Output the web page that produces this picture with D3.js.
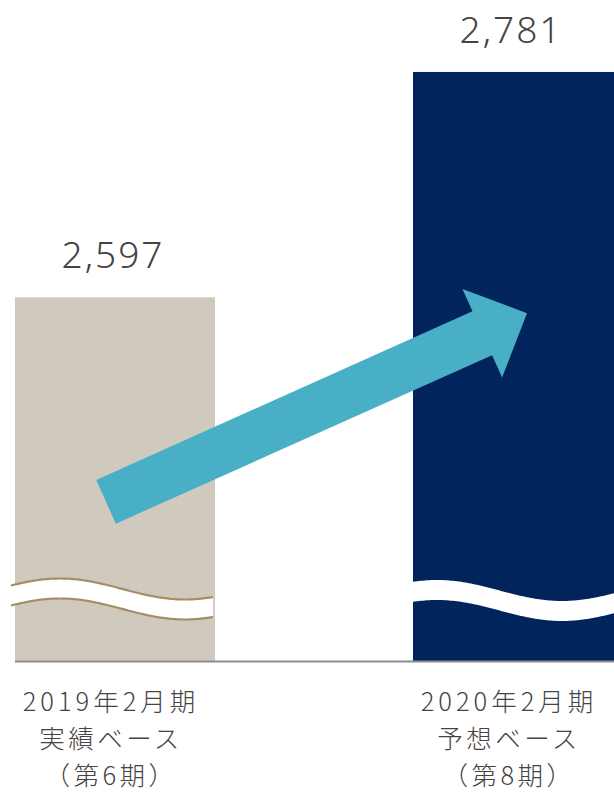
<!DOCTYPE html>
<html>
<head>
<meta charset="utf-8">
<script src="https://cdn.jsdelivr.net/npm/d3@7"></script>
<style>
  html, body { margin: 0; padding: 0; background: #ffffff; }
  svg { display: block; }
</style>
</head>
<body>
<svg id="chart" width="614" height="793"></svg>
<script>
// ---- data ----
const categories   = ["2019年2月期", "2020年2月期"];
const basisLabels  = ["実績ベース", "予想ベース"];
const periodLabels = ["（第6期）", "（第8期）"];
const values       = [2597, 2781];
const valueLabels  = ["2,597", "2,781"];
const barColors    = ["#D0CABE", "#00245B"];
const axisMin = 2300, axisMax = 2800;   // truncated (broken) value axis
const arrowFrom = 2430, arrowTo = 2584; // arrow end heights in value units

// ---- layout ----
const W = 614, H = 793;
const svg = d3.select("#chart");
const baseY = 661;

const x = d3.scaleBand().domain(categories).range([15, 613]).paddingInner(0.4975).paddingOuter(0);
const y = d3.scaleLinear().domain([axisMin, axisMax]).range([baseY, 48.7]);
const bw = x.bandwidth();

// bars
svg.selectAll("rect.bar").data(categories).join("rect")
  .attr("class", "bar")
  .attr("x", d => x(d))
  .attr("y", (d, i) => y(values[i]))
  .attr("width", (d, i) => i === categories.length - 1 ? bw + 2 : bw)
  .attr("height", (d, i) => baseY - y(values[i]))
  .attr("fill", (d, i) => barColors[i]);

// baseline
svg.append("line")
  .attr("x1", x(categories[0])).attr("x2", W)
  .attr("y1", baseY + 0.5).attr("y2", baseY + 0.5)
  .attr("stroke", "#8E8E8E").attr("stroke-width", 2);

// break marks (wavy white band)
const breakCfg = [
  { uStart: -4,  uEnd: 199, uMin: 45, mid: -72,   stroke: true },
  { uStart: -10, uEnd: 203, uMin: 24, mid: -70.5, stroke: false }
];
const waveA = 10.5, waveP = 250, bandT = 20;
categories.forEach((c, i) => {
  const cfg = breakCfg[i];
  const x0 = x(c);
  const us = d3.range(cfg.uStart, cfg.uEnd + 0.001, 2);
  const topPts = us.map(u => [x0 + u, baseY + cfg.mid - waveA * Math.cos(2 * Math.PI * (u - cfg.uMin) / waveP)]);
  const botPts = topPts.map(p => [p[0], p[1] + bandT]);
  const line = d3.line();
  const area = d3.area().x(d => d[0]).y0(d => d[1]).y1(d => d[1] + bandT);
  svg.append("path").attr("d", area(topPts)).attr("fill", "#ffffff");
  if (cfg.stroke) {
    svg.append("path").attr("d", line(topPts)).attr("fill", "none")
      .attr("stroke", "#A68D66").attr("stroke-width", 2.2);
    svg.append("path").attr("d", line(botPts)).attr("fill", "none")
      .attr("stroke", "#A68D66").attr("stroke-width", 2.2);
  }
});

// arrow
(function () {
  const t = [x(categories[0]) + bw * 0.455, y(arrowFrom)];
  const h = [x(categories[1]) + bw * 0.57, y(arrowTo)];
  const dx = h[0] - t[0], dy = h[1] - t[1];
  const L = Math.hypot(dx, dy);
  const ux = dx / L, uy = dy / L, nx = -uy, ny = ux;
  const sw = 24, hw = 48.5, hl = 49;
  const p = (u, v) => [t[0] + ux * u + nx * v, t[1] + uy * u + ny * v];
  const pts = [p(0, -sw), p(L - hl, -sw), p(L - hl, -hw), p(L, 0), p(L - hl, hw), p(L - hl, sw), p(0, sw)];
  svg.append("path").attr("d", "M" + pts.map(q => q.join(",")).join("L") + "Z").attr("fill", "#48AFC7");
})();

// value labels
svg.selectAll("text.val").data(categories).join("text")
  .attr("class", "val")
  .attr("x", d => x(d) + bw / 2 - 2)
  .attr("y", (d, i) => y(values[i]) - 29)
  .attr("text-anchor", "middle")
  .attr("font-family", "'Noto Sans', 'Open Sans', sans-serif")
  .attr("font-weight", 300)
  .attr("font-size", 37)
  .attr("letter-spacing", 2)
  .attr("fill", "#444444")
  .text((d, i) => valueLabels[i]);

// category labels (three lines per category)
const labelFont = "'Noto Sans CJK JP', 'Noto Sans', sans-serif";
const rows = [categories, basisLabels, periodLabels];
const lineGap = 37;
rows.forEach((arr, r) => {
  svg.selectAll("text.cat" + r).data(categories).join("text")
    .attr("class", "cat" + r)
    .attr("x", d => x(d) + bw / 2 - 4)
    .attr("y", 711 + r * lineGap)
    .attr("text-anchor", "middle")
    .attr("font-family", labelFont)
    .attr("font-weight", 300)
    .attr("font-size", 25.5)
    .attr("letter-spacing", r === 0 ? 4 : 3.5)
    .attr("fill", "#444444")
    .text((d, i) => arr[i]);
});
</script>
</body>
</html>
